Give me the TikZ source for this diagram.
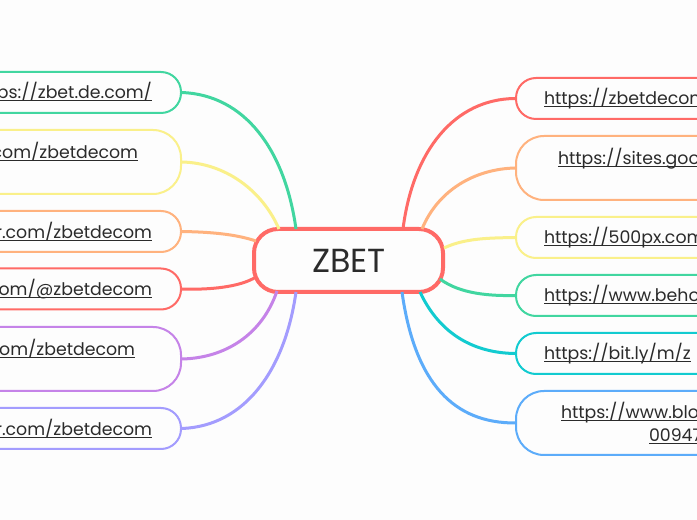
\documentclass[tikz,border=0pt]{standalone}
\usepackage{fontspec}
\setmainfont{Poppins}
\definecolor{bgc}{HTML}{FDFDFD}
\definecolor{ink}{HTML}{2B2B2B}
\definecolor{cgreen}{HTML}{41D6A0}
\definecolor{cyellow}{HTML}{FAF08A}
\definecolor{corange}{HTML}{FFB27E}
\definecolor{cred}{HTML}{FF6A66}
\definecolor{cpurple}{HTML}{C583E8}
\definecolor{cperi}{HTML}{A39CFE}
\definecolor{cteal}{HTML}{12CBD0}
\definecolor{cblue}{HTML}{5CACFA}
\newcommand\lnk[1]{\setbox0\hbox{#1}\rlap{\rule[-2pt]{\wd0}{0.8pt}}\box0}
\newcommand\slnk[1]{\raisebox{-0.75pt}{\lnk{#1}}}
\tikzset{
  basebox/.style={draw, fill=bgc, line width=1.5pt, text=ink, font=\fontsize{13}{17.2}\selectfont, inner ysep=0pt},
  lbox/.style={basebox, inner xsep=21.75pt, text width=137.25pt, align=right},
  rbox/.style={basebox, inner xsep=21pt, text width=141pt, align=left},
  low/.style={minimum height=30.75pt, rounded corners=15pt},
  tall/.style={minimum height=48pt, rounded corners=21pt},
  wire/.style={line width=2.25pt},
}
\begin{document}
\begin{tikzpicture}[x=0.75pt,y=-0.75pt]
\useasboundingbox (0,0) rectangle (697,520);
\clip (0,0) rectangle (697,520);
\fill[bgc] (0,0) rectangle (697,520);
% centre
\node[draw=cred, fill=bgc, line width=3pt, rounded corners=18pt, minimum width=141.75pt, minimum height=47.25pt, text=ink, font=\fontsize{25}{30}\selectfont, inner sep=0pt] (Z) at (348.5,260.5) {\hspace*{0.75pt}ZBET};
% left branches
\node[lbox, low, draw=cgreen] (L1) at (60.5,92.5) {\slnk{https://zbet.de.com/}};
\node[lbox, tall, draw=cyellow] (L2) at (60.5,162) {\lnk{com/zbetdecom}\kern10.5pt\mbox{}\\\mbox{}};
\node[lbox, low, draw=corange] (L3) at (60.5,231.5) {\slnk{r.com/zbetdecom}};
\node[lbox, low, draw=cred] (L4) at (60.5,289) {\slnk{om/@zbetdecom}};
\node[lbox, tall, draw=cpurple] (L5) at (60.5,359) {\lnk{om/zbetdecom}\kern12.75pt\mbox{}\\\mbox{}};
\node[lbox, low, draw=cperi] (L6) at (60.5,428.5) {\slnk{r.com/zbetdecom}};
% right branches
\node[rbox, low, draw=cred] (R1) at (638,98.5) {\slnk{https://zbetdecom}};
\node[rbox, tall, draw=corange] (R2) at (638,168) {\hspace*{10.5pt}\lnk{https://sites.goo}\\\mbox{}};
\node[rbox, low, draw=cyellow] (R3) at (638,237.5) {\slnk{https://500px.com}};
\node[rbox, low, draw=cgreen] (R4) at (638,295.5) {\slnk{https://www.beho}};
\node[rbox, low, draw=cteal] (R5) at (638,353.5) {\slnk{https://bit.ly/m/z}};
\node[rbox, tall, draw=cblue] (R6) at (638,423) {\hspace*{12.75pt}\lnk{https://www.blo}\\\hspace*{78.75pt}\lnk{00947}};
% attachment points on the centre node
\coordinate (a1) at (296,229);
\coordinate (a2) at (279,229);
\coordinate (a3) at (256,241);
\coordinate (a4) at (256,277);
\coordinate (a5) at (277,291);
\coordinate (a6) at (296,292);
\coordinate (b1) at (403,229);
\coordinate (b2) at (422,229);
\coordinate (b3) at (444,248);
\coordinate (b4) at (440,279);
\coordinate (b5) at (420,292);
\coordinate (b6) at (402,292);
% connectors
\draw[wire, cgreen] (L1.east) .. controls (245,95) and (285,150) .. (a1);
\draw[wire, cyellow] (L2.east) .. controls (225,163) and (262,190) .. (a2);
\draw[wire, corange] (L3.east) .. controls (210,232) and (235,234) .. (a3);
\draw[wire, cred] (L4.east) .. controls (210,290) and (240,287) .. (a4);
\draw[wire, cpurple] (L5.east) .. controls (225,358) and (262,335) .. (a5);
\draw[wire, cperi] (L6.east) .. controls (245,426) and (285,370) .. (a6);
\draw[wire, cred] (R1.west) .. controls (455,99) and (413,150) .. (b1);
\draw[wire, corange] (R2.west) .. controls (475,169) and (438,190) .. (b2);
\draw[wire, cyellow] (R3.west) .. controls (490,238) and (465,238) .. (b3);
\draw[wire, cgreen] (R4.west) .. controls (490,296) and (460,294) .. (b4);
\draw[wire, cteal] (R5.west) .. controls (475,353) and (440,335) .. (b5);
\draw[wire, cblue] (R6.west) .. controls (455,423) and (415,385) .. (b6);
\end{tikzpicture}
\end{document}
